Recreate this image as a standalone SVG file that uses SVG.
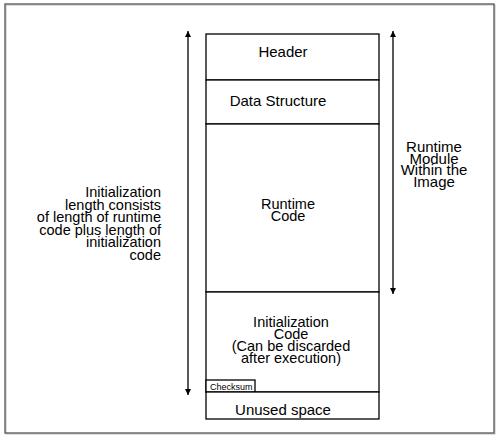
<svg xmlns="http://www.w3.org/2000/svg" width="500" height="440" viewBox="0 0 500 440">
<defs>
<marker id="ah" viewBox="0 0 10 10" refX="10" refY="5" markerWidth="6" markerHeight="6" markerUnits="userSpaceOnUse" orient="auto-start-reverse">
<path d="M0,0 L10,5 L0,10 Z" fill="#000"/>
</marker>
</defs>
<style>
text{font-family:"Liberation Sans",Arial,sans-serif;font-size:15px;fill:#000}
.box{fill:#fff;stroke:#000;stroke-width:1.3}
.c{text-anchor:middle}
.r{text-anchor:end}
.ln{stroke:#000;stroke-width:1.3;fill:none}
</style>
<rect x="0" y="0" width="500" height="440" fill="#fff"/>
<rect x="6" y="5" width="489" height="429" fill="none" stroke="#bbb" stroke-width="1"/>
<rect x="5" y="4" width="489" height="429" fill="none" stroke="#555" stroke-width="1.3"/>
<g id="header">
<rect class="box" x="206" y="34" width="173" height="46"/>
<text class="c" x="283" y="56.5">Header</text>
</g>
<g id="data-structure">
<rect class="box" x="206" y="80" width="173" height="44"/>
<text class="c" x="278" y="106">Data Structure</text>
</g>
<g id="runtime-code">
<rect class="box" x="206" y="124" width="173" height="168"/>
<text class="c" x="288" y="209" style="font-size:14.5px">Runtime</text>
<text class="c" x="288" y="221" style="font-size:14.5px">Code</text>
</g>
<g id="initialization-code">
<rect class="box" x="206" y="292" width="173" height="100"/>
<text class="c" x="291" y="326.5" style="font-size:14.5px">Initialization</text>
<text class="c" x="291" y="338.5" style="font-size:14.5px">Code</text>
<text class="c" x="291" y="350.5" style="font-size:14.5px">(Can be discarded</text>
<text class="c" x="291" y="362.5" style="font-size:14.5px">after execution)</text>
</g>
<g id="checksum">
<rect class="box" x="206" y="380" width="49" height="12" stroke-width="1"/>
<text x="210" y="390" style="font-size:9px">Checksum</text>
</g>
<g id="unused-space">
<rect class="box" x="206" y="392" width="173" height="27"/>
<text class="c" x="283" y="415">Unused space</text>
</g>
<g id="connectors">
<line class="ln" x1="188" y1="31" x2="188" y2="395" marker-start="url(#ah)" marker-end="url(#ah)"/>
<line class="ln" x1="393" y1="31" x2="393" y2="294" marker-start="url(#ah)" marker-end="url(#ah)"/>
</g>
<g id="init-length-label">
<text class="r" x="161" y="197" style="font-size:14.5px">Initialization</text>
<text class="r" x="161" y="209.5" style="font-size:14.5px">length consists</text>
<text class="r" x="161" y="222" style="font-size:14.5px">of length of runtime</text>
<text class="r" x="161" y="234.5" style="font-size:14.5px">code plus length of</text>
<text class="r" x="161" y="247" style="font-size:14.5px">initialization</text>
<text class="r" x="161" y="259.5" style="font-size:14.5px">code</text>
</g>
<g id="runtime-module-label">
<text class="c" x="434" y="152">Runtime</text>
<text class="c" x="434" y="163.5">Module</text>
<text class="c" x="434" y="175">Within the</text>
<text class="c" x="434" y="186.5">Image</text>
</g>
</svg>
